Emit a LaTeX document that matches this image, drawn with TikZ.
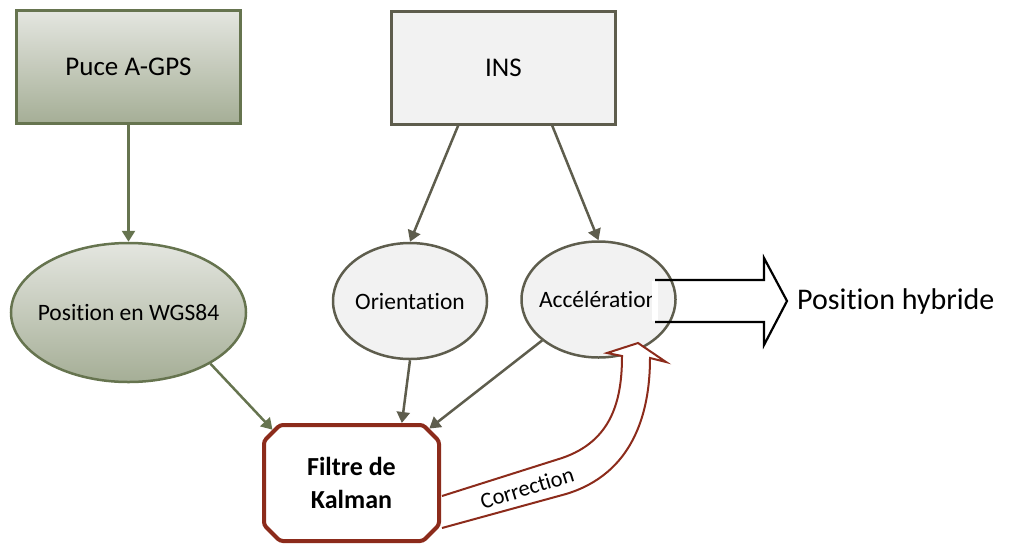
\documentclass[tikz,border=0pt]{standalone}
\usepackage{fontspec}
\setmainfont{Carlito}[Ligatures={NoCommon}]
\usetikzlibrary{arrows.meta,shapes.geometric,shapes.misc}

\definecolor{gpsTop}{HTML}{E4E6E0}
\definecolor{gpsBot}{HTML}{A5AE96}
\definecolor{gpsLine}{HTML}{66744F}
\definecolor{insFill}{HTML}{F2F2F2}
\definecolor{insLine}{HTML}{5E5D4D}
\definecolor{kalLine}{HTML}{8C2B1B}

\begin{document}
\begin{tikzpicture}[x=1pt,y=-1pt,
  gpsBox/.style={draw=gpsLine,line width=3pt,top color=gpsTop,bottom color=gpsBot,minimum width=224pt,minimum height=113pt,inner sep=0pt,font=\fontsize{27}{32}\selectfont},
  insBox/.style={gpsBox,draw=insLine,fill=insFill,top color=insFill,bottom color=insFill},
  gpsEllipse/.style={ellipse,draw=gpsLine,line width=2.5pt,top color=gpsTop,bottom color=gpsBot,minimum width=235pt,minimum height=139pt,inner xsep=-30pt,inner ysep=0pt,font=\fontsize{23.5}{28}\selectfont},
  insEllipse/.style={ellipse,draw=insLine,line width=2.5pt,fill=insFill,minimum width=154pt,minimum height=116pt,inner xsep=-30pt,inner ysep=0pt,font=\fontsize{23.5}{28}\selectfont},
  kalmanBox/.style={chamfered rectangle,chamfered rectangle xsep=8pt,chamfered rectangle ysep=8pt,rounded corners=3pt,draw=kalLine,line width=4pt,fill=white,minimum width=175pt,minimum height=116pt,inner sep=0pt,align=center,font=\fontsize{26}{33}\selectfont\bfseries},
  greenArrow/.style={draw=gpsLine,line width=2.5pt,-{Triangle[length=11pt,width=13pt]}},
  grayArrow/.style={greenArrow,draw=insLine}]
\useasboundingbox (0,0) rectangle (1011,544);

% Sources
\node[gpsBox] (puce) at (128.5,67) {Puce A-GPS};
\node[insBox] (ins) at (503.5,67.5) {INS};

% Measures
\node[gpsEllipse] (wgs) at (128.5,312.5) {Position en WGS84};
\node[insEllipse] (orient) at (410,301) {Orientation};
\node[insEllipse] (accel) at (598.5,299.5) {Accélération};

% Filter
\node[kalmanBox] (kalman) at (351.5,483) {Filtre de\\Kalman};

% Arrows
\draw[greenArrow] (puce.south) -- (wgs.north);
\draw[grayArrow] (ins.-128.5) -- (orient.north);
\draw[grayArrow] (ins.-50.3) -- (accel.north);
\draw[greenArrow] (wgs.-32.9) -- (kalman.146);
\draw[grayArrow] (orient.south) -- (kalman.50);
\draw[grayArrow] (accel.-144.4) -- (kalman.35);

% Correction
\draw[kalLine,line width=2pt,fill=white,line join=miter] (442,496) -- (562,458) .. controls (612,441) and (622,400) .. (622,356) -- (607,353) -- (638,343) -- (666,362) -- (650,358) .. controls (650,415) and (632,474) .. (566,494) -- (442,528);
\node[rotate=17,font=\fontsize{22.5}{27}\selectfont] (corr) at (527,488) {Correction};

% Output
\fill[white] (652,281) rectangle (658,321);
\draw[line width=2.2pt,line join=miter] (655,280) -- (764,280) -- (764,258) -- (787,301) -- (764,345) -- (764,322) -- (655,322);
\node[anchor=west,inner sep=0pt,font=\fontsize{30}{36}\selectfont] (hybrid) at (797,301) {Position hybride};
\end{tikzpicture}
\end{document}
